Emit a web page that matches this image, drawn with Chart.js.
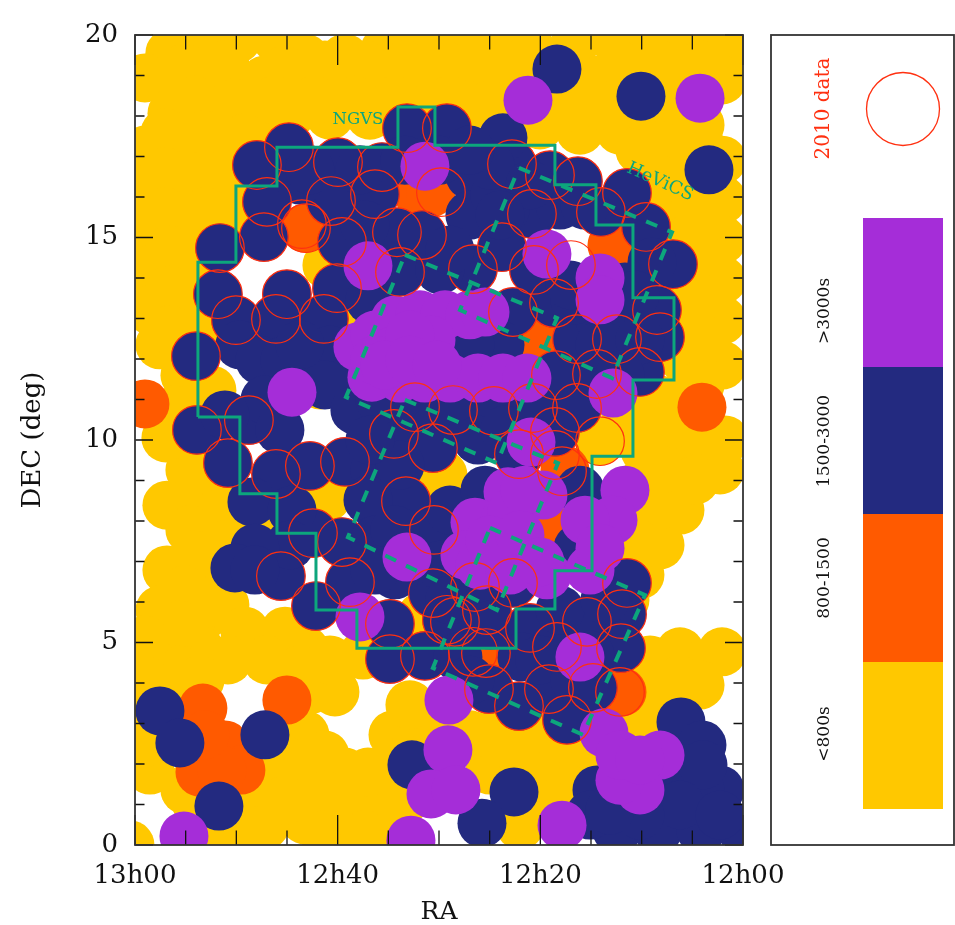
<!DOCTYPE html>
<html>
<head>
<meta charset="utf-8">
<style>html,body{margin:0;padding:0;background:#fff}canvas{display:block}</style>
<script src="https://cdn.jsdelivr.net/npm/chart.js@4"></script>
</head>
<body>
<canvas id="c" width="955" height="925"></canvas>
<script>
// All positions are [RA minutes after 12h, Dec degrees]
const raTickValues=[60,40,20,0];
const raTickLabels=['13h00','12h40','12h20','12h00'];
const legendLabels=['>3000s','1500-3000','800-1500','<800s'];

const under800=[
[56.56,19.55],[53.59,19.63],[49.94,19.9],[45.99,19.9],[43.23,19.43],[39.28,19.43],[35.33,19.63],[31.39,19.75],[27.44,19.92],[25.27,19.75],[21.32,19.92],[16.88,19.63],[12.63,19.88],[8.69,19.88],[4.24,19.88],[0.79,19.63],
[59.02,18.94],[55.07,18.76],[51.13,18.76],[47.18,18.89],[43.23,18.76],[39.28,18.76],[35.33,18.76],[31.39,18.76],[27.44,18.76],[23.49,19.01],[18.06,18.64],[14.11,18.89],[6.22,18.89],[2.07,18.89],
[56.35,18.07],[52.61,17.9],[48.66,17.9],[44.71,18.02],[40.76,18.02],[36.81,18.02],[30.89,18.39],[26.95,18.27],[20.04,17.78],[16.09,17.65],[12.14,17.65],[8.19,17.78],[4.24,17.78],
[59.02,17.16],[55.07,17.04],[51.13,17.04],[59.02,16.17],[55.07,16.05],[51.13,16.05],[50.63,15.55],[58.53,15.18],[54.58,15.18],[58.53,14.2],[54.58,14.2],[58.53,13.21],[54.58,13.21],[57.54,12.35],[55.07,11.6],[52.41,11.23],[56.06,10.74],[56.95,10.05],[54.58,9.26],[56.85,8.39],[53.1,8.39],[53.1,7.53],[56.85,6.79],[53.1,6.54],[57.54,5.8],[53.1,5.68],[51.13,5.93],[49.15,5.28],[45.2,5.28],[57.54,4.81],[53.59,4.81],[50.83,4.57],[46.98,4.57],[43.23,4.81],[40.27,3.78],[37.5,4.69],[42.74,3.83],[57.54,3.83],
[58.53,1.85],[59.51,2.47],[60.5,0],[55.07,1.36],[51.13,0.25],[47.18,1.36],[47.18,0.49],[43.23,2.72],[43.23,1.73],[43.23,0.62],[39.28,1.8],[39.28,0.74],[34.54,2.72],[35.33,1.6],[35.33,0.62],[30.89,2.72],[32.87,3.46],
[24.97,2.72],[21.02,2.72],[17.07,2.47],[23.49,1.98],[19.54,1.85],[16.58,1.73],[20.53,0.86],[22.01,0.49],[24.97,1.85],
[2.07,16.91],[6.22,16.91],[10.17,17.16],[2.07,15.93],[6.22,15.93],[2.07,14.94],[5.72,14.94],[2.07,13.95],[5.23,13.95],[2.07,12.96],[5.23,12.96],[2.07,11.85],[5.72,11.97],[8.19,10.99],[4.74,10.86],[10.17,10.49],[1.78,10],[5.72,10],[9.67,9.75],[2.27,9.26],[6.22,9.14],[10.17,8.89],[6.22,8.27],[10.17,7.9],[8.19,7.41],[10.17,6.67],[11.65,6.05],
[6.22,4.77],[2.07,4.77],[9.18,4.57],[4.24,4.44],[7.7,3.7],[10.17,3.21],[4.24,3.95],[13.13,2.84],[12.14,10.99],
[14.11,9.97],[41.06,14.32],[41.06,8.59],[29.61,9.14],[31.78,5.63],[48.17,7.95],[39.28,13.09],[41.75,11.36],
[51.13,19.26],[45.2,19.13],[41.26,19.26],[37.31,19.26],[33.36,19.26],[29.41,19.26],[25.46,19.38],[21.52,19.33],[18.06,19.13],[12.14,19.26],[8.19,19.26],[4.24,19.26],[55.07,19.18],
[54.09,18.39],[50.14,18.32],[46.19,18.39],[42.24,18.39],[38.3,18.39],[34.35,18.39],[28.92,18.39],[24.97,18.27],[22.01,18.27],[18.06,18.15],[14.11,18.27],[10.17,18.27],[6.22,18.27],
[57.05,17.58],[53.1,17.53],[49.15,17.46],[57.05,16.62],[53.1,16.54],[57.05,15.63],[53.1,15.63],[56.56,14.69],[52.61,14.69],[56.56,13.7],[52.61,13.7],[56.56,12.72],[53.1,12.59],
[4.24,17.28],[8.19,17.28],[4.24,16.42],[8.19,16.42],[4.24,15.43],[3.75,14.44],[3.75,13.46],[3.75,12.47],[7.7,12.22],
[4.24,11.36],[7.2,10.37],[4.74,9.01],[8.19,8.39],[8.19,9.26],[12.14,7.04],[10.17,7.41],[12.14,7.9],
[6.22,4.07],[10.17,4.07],[11.15,3.33],
[55.07,10.12],[53.1,9.26],[52.11,8.76],[52.11,8.15],[54.58,7.78],[54.09,7.16],[55.07,6.3],[51.13,7.41],[55.57,5.43],[55.57,4.32],[53.59,4.07],[59.02,5.06],[59.02,4.07],[58.53,3.21],
[54.09,1.11],[49.15,1.11],[45.2,2.1],[45.2,1.11],[48.66,0.37],[41.26,2.22],[41.26,1.23],[41.26,0.25],[37.31,1.23],[37.31,0.25],[37.01,1.8],[33.36,1.11],[33.36,2.1],[28.92,2.84],
[43.72,4.32],[40.76,4.57],
[23,2.47],[26.95,2.72],[19.05,2.59],[15.1,2.1],[21.02,1.73],[17.07,1.36],[19.05,0.99],[23,0.74],[10.66,3.09]
];
const from800to1500=[
[59.02,10.89],[4.05,10.81],[43.23,15.23],[31.88,16.0],[30.79,16.1],[12.93,14.81],[20.33,12.47],[17.57,9.26],[19.25,7.85],[24.97,4.64],[11.94,3.78],
[53.3,3.38],[45.01,3.58],[51.13,2.47],[53.59,1.8],[49.55,1.85],[51.42,1.85],[53.1,2.72]
];
const data2010OnNavy=[
[47.97,16.79],[44.81,17.23],[39.97,16.86],[35.63,16.74],[33.16,17.7],[29.22,17.7],[46.98,15.88],[40.66,15.9],[36.32,16.07],[47.28,15.01],[39.58,14.89],[34.15,15.13],[31.68,15.06],[51.62,14.74],[33.85,14.15],
[51.82,13.6],[50.04,12.96],[46.09,12.99],[45.01,13.6],[41.36,12.99],[40.07,13.75],[53.99,12.07],[53.89,10.25],[48.76,10.49],[50.83,9.43],[46.09,9.16],[42.74,9.36],[39.28,9.46],[42.44,7.7],[39.58,7.48],[45.6,6.64],[38.79,6.49],
[34.45,10.15],[32.37,10.81],[30.6,9.8],[28.62,10.74],[24.58,10.72],[20.73,10.79],[16.38,10.79],[33.26,8.49],[30.5,7.78],[22.11,9.65],[18.56,10.2],[14.41,11.63],[18.46,11.6],[10.17,11.68],[12.44,12.49],[8.19,12.54],[8.49,13.21],[22.7,13.16],[16.38,12.49],
[22.8,16.81],[19.05,16.54],[14.02,15.63],[16.29,16.39],[20.83,15.58],[11.45,16.1],[9.57,15.26],[6.91,14.34],[23.79,14.76],[26.65,14.22],[20.63,14.2],[18.65,13.38],
[26.45,6.37],[22.7,6.47],[11.45,6.47],[11.94,5.7],[15.4,5.51],[18.36,4.89],[21.02,5.36],[25.27,5.8],[25.07,3.85],[29.22,5.56],[22.11,3.43],[19.15,3.85],[17.37,3.09],[14.81,3.88],[12.04,4.86],[42.14,5.9],[34.84,5.46],[34.84,4.59],[31.39,4.67],[28.43,5.51],[30.6,6.22]
];
const data2010Other=[
[43.53,15.33],[43.13,15.23],[29.81,16.12],[18.56,9.63],[17.86,9.23],[14.11,9.97],[16.98,14.32],[26.65,4.77],[25.37,4.74],[12.14,3.78]
];
const from1500to3000Extra=[
[18.36,19.16],[10.07,18.49],[3.36,16.67],[23.69,17.46],[26.95,16.54],[26.95,15.55],[43.72,16.42],[29.91,16.91],[24.48,16.05],[18.06,15.8],[29.91,14.2],[23.49,15.68],[11.65,13.78],[14.11,12.96],[16.58,13.46],[17.07,13.83],
[49.65,12.35],[47.67,11.97],[45.2,11.97],[42.74,11.97],[40.76,12.22],[39.78,11.36],[41.26,11.36],[38.3,10.74],[36.32,9.26],[37.01,8.52],[36.32,7.53],[34.35,6.67],[33.85,9.38],[28.92,8.27],[26.16,10.0],[25.46,8.76],
[48.46,8.47],[44.51,8.27],[44.71,7.41],[48.17,7.33],[50.14,6.84],[48.17,6.79],[16.09,8.76],[16.29,7.33],[23.98,12.35],[26.95,12.35],
[28.13,4.64],[21.81,4.64],[24.97,5.43],[20.04,4.57],[15.1,4.69],[26.95,4.07],[18.06,5.8],
[6.12,3.04],[4.05,2.47],[2.27,1.36],[14.41,1.36],[12.44,0.37],[8.39,0.37],[4.15,0.37],[0.1,0.37],[6.22,1.6],[9.18,1.36],[4.24,1.36],[15.1,0.74],
[57.54,3.31],[55.57,2.52],[47.18,2.72],[51.72,0.96],[32.67,1.98],[22.6,1.31],[25.76,0.54],
[42.74,16.67],[37.8,16.67],[33.36,16.91],[37.31,15.31],[36.81,13.46],[43.72,12.35],[47.18,10.99],[51.13,10.62],[45.7,10.25],[35.83,10.99],[36.81,10.0],[23.49,10.25],[34.35,7.78],[36.32,6.79],[29.91,6.91],[28.92,6.05],[16.58,4.07],[13.62,6.05],[14.11,13.83],[8.98,14.39],[10.66,13.58],[14.11,12.35],[10.17,12.47],[12.14,11.6],[24.97,16.79],[26.95,17.16],[21.02,16.3],[23.98,15.55],[28.92,14.69],[15.59,15.8],[3.95,1.98],[6.22,0.99],[10.17,0.74],[2.27,0.74],[13.13,0.86]
];
const over3000=[
[21.22,18.39],[4.24,18.44],[31.39,16.76],[37.01,14.3],[19.35,14.59],[14.11,14.0],[14.11,13.46],[38.0,12.3],[36.62,11.55],[33.85,11.53],[31.39,11.53],[28.92,11.53],[26.16,11.53],[23.69,11.53],[21.32,11.53],[34.35,12.96],[36.32,12.59],[31.88,13.09],[29.41,13.09],[26.95,13.09],[25.46,13.16],[31.88,12.22],[34.35,12.22],[30.79,12.47],[36.32,11.97],
[44.51,11.18],[12.83,11.16],[20.92,9.95],[33.16,7.11],[37.8,5.63],[11.65,8.76],[12.83,8.02],[15.59,8.02],[23.19,8.72],[19.74,8.64],[26.45,7.97],[23.49,8.02],[22.8,8.22],[27.44,7.16],[24.48,7.16],[21.52,7.16],[19.35,6.67],[25.96,6.91],[23.0,6.79],[15.1,6.79],[14.11,7.33],
[29.02,3.58],[29.12,2.35],[30.79,1.26],[28.33,1.36],[32.77,0.12],[55.17,0.22],[17.86,0.49],[13.72,2.77],[8.19,2.22],[10.17,1.36],[12.14,1.6],[12.14,2.22],[10.17,2.1],[16.09,4.64],
[21.52,8.76],[24.97,7.53],[22.01,7.65],[20.04,6.99],[32.87,12.59],[35.33,11.85],[32.87,11.97],[30.2,11.85]
];
const ngvsOutline=[
[53.79,10.57],[53.79,14.39],[50.04,14.39],[50.04,16.27],[45.99,16.27],[45.99,17.23],[34.05,17.23],[34.05,18.22],[30.4,18.22],[30.4,17.28],[18.56,17.28],[18.56,16.3],[14.51,16.3],[14.51,15.31],[10.86,15.31],[10.86,13.51],[6.81,13.51],[6.81,11.48],[10.86,11.48],[10.86,9.6],[14.9,9.6],[14.9,6.77],[18.56,6.77],[18.56,5.83],[22.4,5.83],[22.4,4.86],[38.1,4.86],[38.1,5.8],[42.14,5.8],[42.14,7.7],[45.99,7.7],[45.99,8.67],[49.65,8.67],[49.65,10.57],[53.79,10.57]
];
const hevicsNorth=[[22.11,16.72],[7.01,15.13],[12.93,11.53],[27.93,13.21],[22.11,16.72]];
const hevicsUpperMid=[[33.36,14.57],[18.36,13.01],[24.28,9.43],[39.18,11.06],[33.36,14.57]];
const hevicsLowerMid=[[33.36,10.99],[18.26,9.43],[24.28,5.8],[38.99,7.6],[33.36,10.99]];
const hevicsSouth=[[24.97,7.83],[9.67,6.17],[15.79,2.72],[30.6,4.37],[24.97,7.83]];
const ngvsLabelAt=[38.0,17.9];
const hevicsLabelAt=[8.19,16.37];

const YELLOW='#ffc800',ORANGE='#ff5a00',NAVY='#232a80',PURPLE='#a52dd8',RED='#ff3010',GREEN='#0da67c',INK='#111';
const SERIF='"DejaVu Serif"';
const pts=a=>a.map(p=>({x:p[0],y:p[1]}));
const field=(label,arr,color,order)=>({label,data:pts(arr),order,pointRadius:24.5,pointBackgroundColor:color,pointBorderWidth:0,pointBorderColor:color,showLine:false,pointHoverRadius:24.5});
const outline=(label,arr,dash,w)=>({label,data:pts(arr),order:0,showLine:true,borderColor:GREEN,borderWidth:w,borderDash:dash,pointRadius:0,fill:false,tension:0,borderJoinStyle:'miter'});

const panel={
  id:'panel',
  afterDatasetsDraw(chart){
    const {ctx,chartArea:a,scales:{x,y}}=chart;
    ctx.save();
    ctx.strokeStyle='#111';ctx.lineWidth=1.3;
    ctx.beginPath();
    x.ticks.forEach(t=>{const p=x.getPixelForValue(t.value),l=t.value%20===0?30:14.5;
      ctx.moveTo(p,a.top);ctx.lineTo(p,a.top+l);ctx.moveTo(p,a.bottom);ctx.lineTo(p,a.bottom-l);});
    y.ticks.forEach(t=>{const p=y.getPixelForValue(t.value),l=t.value%5===0?18:9.5;
      ctx.moveTo(a.left,p);ctx.lineTo(a.left+l,p);ctx.moveTo(a.right,p);ctx.lineTo(a.right-l,p);});
    ctx.stroke();
    ctx.strokeStyle='#333';ctx.lineWidth=1.8;
    ctx.strokeRect(a.left,a.top,a.right-a.left,a.bottom-a.top);
    ctx.fillStyle=GREEN;ctx.textAlign='center';ctx.textBaseline='middle';
    ctx.font='16.5px '+SERIF;
    ctx.fillText('NGVS',x.getPixelForValue(ngvsLabelAt[0]),y.getPixelForValue(ngvsLabelAt[1]));
    ctx.save();
    ctx.translate(x.getPixelForValue(hevicsLabelAt[0]),y.getPixelForValue(hevicsLabelAt[1]));
    ctx.rotate(24*Math.PI/180);
    ctx.font='18px '+SERIF;ctx.fillText('HeViCS',0,0);
    ctx.restore();
    const bx=771,by=35,bw=183,bh=810;
    ctx.strokeStyle='#333';ctx.lineWidth=1.8;ctx.strokeRect(bx,by,bw,bh);
    ctx.strokeStyle=RED;ctx.lineWidth=1.3;
    ctx.beginPath();ctx.arc(903,109,36.5,0,Math.PI*2);ctx.stroke();
    const rot=(txt,cx,cy,font,col)=>{ctx.save();ctx.translate(cx,cy);ctx.rotate(-Math.PI/2);ctx.font=font;ctx.fillStyle=col;ctx.textAlign='center';ctx.textBaseline='middle';ctx.fillText(txt,0,0);ctx.restore();};
    rot('2010 data',824,108.5,'20px '+SERIF,RED);
    const cols=[PURPLE,NAVY,ORANGE,YELLOW];
    const tops=[218,367,514,662,809];
    const lblY=[311,441,578,734];
    cols.forEach((c,i)=>{ctx.fillStyle=c;ctx.fillRect(863,tops[i],80,tops[i+1]-tops[i]);
      rot(legendLabels[i],825,lblY[i],'17px '+SERIF,INK);});
    ctx.restore();
  }
};

new Chart(document.getElementById('c'),{
  type:'scatter',
  data:{datasets:[
    field('<800s',under800,YELLOW,6),
    field('800-1500',from800to1500,ORANGE,5),
    field('1500-3000',data2010OnNavy.concat(from1500to3000Extra),NAVY,4),
    field('>3000s',over3000,PURPLE,3),
    {label:'2010 data',data:pts(data2010OnNavy.concat(data2010Other)),order:2,showLine:false,pointRadius:24.3,pointBackgroundColor:'rgba(0,0,0,0)',pointBorderColor:RED,pointBorderWidth:1.2},
    outline('NGVS',ngvsOutline,[],3),
    outline('HeViCS north',hevicsNorth,[12,11],4),
    outline('HeViCS upper mid',hevicsUpperMid,[12,11],4),
    outline('HeViCS lower mid',hevicsLowerMid,[12,11],4),
    outline('HeViCS south',hevicsSouth,[12,11],4)
  ]},
  options:{
    responsive:false,animation:false,
    layout:{padding:{left:0,top:35,right:212,bottom:0}},
    plugins:{legend:{display:false},tooltip:{enabled:false}},
    events:[],
    scales:{
      x:{type:'linear',min:0,max:60,reverse:true,
        afterFit(s){s.height=80;},
        grid:{display:false},border:{display:false},
        ticks:{stepSize:5,autoSkip:false,maxRotation:0,padding:8,color:INK,font:{family:SERIF,size:26},
          callback:v=>{const i=raTickValues.indexOf(v);return i<0?'':raTickLabels[i];}},
        title:{display:true,text:'RA',color:INK,font:{family:SERIF,size:25,lineHeight:1},padding:{top:0,bottom:0}}},
      y:{type:'linear',min:0,max:20,
        afterFit(s){s.width=135;},
        grid:{display:false},border:{display:false},
        ticks:{stepSize:1,autoSkip:false,padding:9,color:INK,font:{family:SERIF,size:26},
          callback:v=>v%5===0?String(v):''},
        title:{display:true,text:'DEC (deg)',color:INK,font:{family:SERIF,size:26,lineHeight:1},padding:{top:20,bottom:0}}}
    }
  },
  plugins:[panel]
});
</script>
</body>
</html>
